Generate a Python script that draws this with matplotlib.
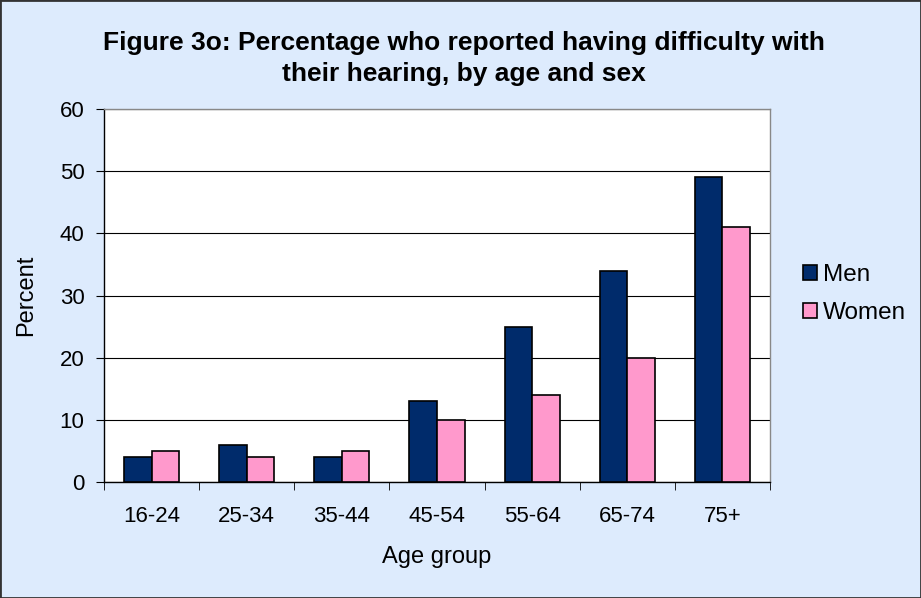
import numpy as np
import matplotlib
matplotlib.use("Agg")
import matplotlib.pyplot as plt
from matplotlib.patches import Rectangle

plt.rcParams['font.family'] = ['Liberation Sans', 'DejaVu Sans']

age_groups = ["16-24", "25-34", "35-44", "45-54", "55-64", "65-74", "75+"]
men = [4, 6, 4, 13, 25, 34, 49]
women = [5, 4, 5, 10, 14, 20, 41]

bg = "#DDEBFD"
navy = "#002B6B"
pink = "#FF99CC"

fig = plt.figure(figsize=(9.21, 5.98), dpi=100, facecolor=bg)
fig.patches.append(Rectangle((0, 0), 1, 1, transform=fig.transFigure,
                             fill=False, edgecolor="#333333", linewidth=2))

ax = fig.add_axes([104/921, 1-482/598, 666/921, 373/598])
ax.set_facecolor("white")

x = np.arange(len(age_groups))
w = 0.29
ax.bar(x - w/2, men, w, color=navy, edgecolor="black", linewidth=1.2, label="Men", zorder=3)
ax.bar(x + w/2, women, w, color=pink, edgecolor="black", linewidth=1.2, label="Women", zorder=3)

ax.set_xlim(-0.5, len(age_groups) - 0.5)
ax.set_ylim(0, 60)
ax.set_yticks(range(0, 61, 10))
ax.yaxis.grid(True, color="black", linewidth=0.8, zorder=0)
ax.set_xticks(x)
ax.set_xticklabels(age_groups, fontsize=16)
ax.set_xticks(np.arange(-0.5, len(age_groups), 1), minor=True)
ax.tick_params(axis="x", which="major", length=0, pad=17)
ax.tick_params(axis="x", which="minor", length=6, direction="out", color="black")
ax.tick_params(axis="y", length=6, direction="out", labelsize=16, pad=8)

for s in ["top", "right"]:
    ax.spines[s].set_color("#888888")
    ax.spines[s].set_linewidth(1)
for s in ["left", "bottom"]:
    ax.spines[s].set_color("black")
    ax.spines[s].set_linewidth(1)

ax.set_xlabel("Age group", fontsize=17, labelpad=14)
ax.set_ylabel("Percent", fontsize=17, labelpad=16)

fig.text(0.504, 1-58.5/598, "Figure 3o: Percentage who reported having difficulty with\ntheir hearing, by age and sex",
         ha="center", va="center", fontsize=19, fontweight="bold", linespacing=1.36)

leg = fig.legend(loc="center left", bbox_to_anchor=(791/921, 1-294/598), frameon=False,
                 fontsize=17.5, handlelength=0.55, handleheight=0.55, handletextpad=0.27,
                 labelspacing=0.65, borderpad=0)

fig.savefig("out.png", dpi=100, facecolor=bg)
